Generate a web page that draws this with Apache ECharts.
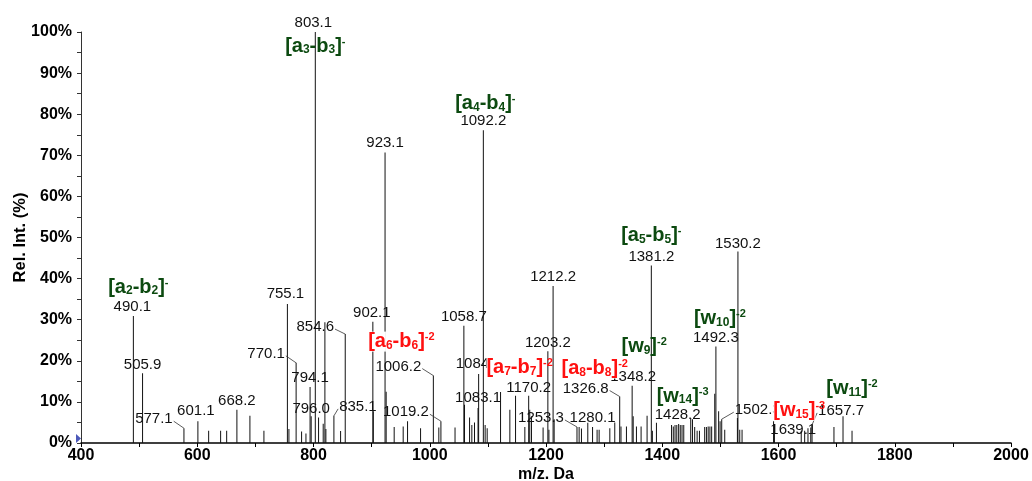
<!DOCTYPE html>
<html><head><meta charset="utf-8">
<script src="https://cdn.jsdelivr.net/npm/echarts@6/dist/echarts.min.js"></script>
<style>html,body{margin:0;padding:0;background:#fff}#c{width:1032px;height:481px}</style>
</head><body><div id="c"></div>
<script>
// ---------- DATA ----------
const peakMz = [490.1,505.9,577.1,601.1,619.6,640.2,650.6,668.2,690.6,714.7,
  755.1,757.7,770.1,779.5,787.0,794.1,796.0,803.1,808.7,816.7,819.6,821.3,835.1,846.6,854.6,
  902.1,902.9,923.1,925.0,938.8,954.3,961.8,984.2,1006.2,1015.6,1019.2,1043.5,
  1058.7,1059.8,1068.5,1072.4,1077.0,1083.1,1084.1,1092.2,1095.3,1098.8,1121.8,1137.8,1147.6,
  1163.6,1170.2,1172.0,1175.0,1195.0,1203.2,1205.0,1212.2,1214.0,1253.3,1257.0,1261.0,1271.9,
  1280.1,1287.9,1291.4,1309.8,1318.3,1326.8,1329.0,1338.4,1348.2,1350.0,1355.6,1363.6,1373.9,
  1381.2,1383.0,1390.0,1416.0,1419.0,1422.0,1425.0,1428.2,1431.0,1434.0,1437.0,1449.0,1452.0,
  1455.8,1460.0,1464.0,1473.0,1476.0,1479.0,1482.0,1485.0,1490.3,1492.3,1497.0,1499.5,1502.3,
  1507.5,1529.3,1530.2,1533.3,1537.3,1591.5,1593.0,1639.1,1645.0,1650.7,1655.5,1657.7,1695.4,
  1711.0,1726.5];
const peakInt = [30.9,17.0,3.6,5.3,3.0,3.0,3.0,8.1,6.6,3.0,
  33.8,3.4,19.5,2.8,2.3,13.6,6.5,100,6.2,4.7,29.4,3.4,6.6,2.9,26.5,
  29.5,7.7,70.7,12.5,3.9,4.0,5.3,3.6,16.4,3.8,5.3,3.8,
  28.5,9.3,6.2,4.4,5.0,8.5,16.8,76.1,4.4,3.6,12.4,8.1,11.5,
  3.9,11.5,8.1,6.5,3.8,22.3,3.2,38.2,5.8,3.9,3.9,3.5,4.9,
  3.9,3.2,3.2,3.6,5.0,11.3,4.0,4.0,13.9,6.5,4.0,4.0,6.6,
  43.2,3.0,4.9,4.4,4.0,4.4,4.4,4.6,4.4,4.4,4.4,6.1,5.8,
  3.9,3.0,3.0,3.9,3.9,4.0,4.0,4.0,12.0,23.5,7.7,5.3,5.8,
  3.2,6.1,46.6,3.2,3.2,5.3,4.5,3.0,3.0,3.6,3.8,4.4,3.9,
  6.5,3.0];
const numLabels = ['490.1','505.9','577.1','601.1','668.2','755.1','770.1','794.1','796.0','803.1',
  '835.1','854.6','902.1','923.1','1006.2','1019.2','1058.7','1083.1','1084.1','1092.2','1170.2',
  '1203.2','1212.2','1253.3','1280.1','1326.8','1348.2','1381.2','1428.2','1492.3','1502.3',
  '1530.2','1639.1','1657.7'];
const annLabels = ['[a_2-b_2]^-','[a_3-b_3]^-','[a_4-b_4]^-','[a_5-b_5]^-','[a_6-b_6]^-2',
  '[a_7-b_7]^-2','[a_8-b_8]^-2','[w_9]^-2','[w_10]^-2','[w_14]^-3','[w_15]^-3','[w_11]^-2'];
const annPeaks = [490.1,803.1,1092.2,1381.2,1006.2,1084.1,1326.8,1348.2,1492.3,1428.2,1639.1,1657.7];
const xTickLabels = [400,600,800,1000,1200,1400,1600,1800,2000];

// ---------- LAYOUT / STYLE (pixel offsets of labels from their peak tops) ----------
const numLayout = {
  '490.1':[-1,-9],'505.9':[0,-8],'577.1':[-30,-9,'r'],'601.1':[-2,-10],'668.2':[0,-9],
  '755.1':[-2,-10],'770.1':[-30,-9,'r'],'794.1':[0,-9],'796.0':[0,-7],'803.1':[-2,-9],
  '835.1':[24,-9,'l'],'854.6':[-30,-7,'r'],'902.1':[-1,-9],'923.1':[0,-10],'1006.2':[-35,-9,'r'],
  '1019.2':[-35,-9,'r'],'1058.7':[0,-9],'1083.1':[0,-10],'1084.1':[0,-10],'1092.2':[0,-9],
  '1170.2':[0,-8],'1203.2':[0,-8],'1212.2':[0,-9],'1253.3':[-36,-9,'r'],'1280.1':[0,-9],
  '1326.8':[-34,-8,'r'],'1348.2':[1,-9],'1381.2':[0,-9],'1428.2':[-1,-9],'1492.3':[0,-9],
  '1502.3':[36,-9,'l'],'1530.2':[0,-8],'1639.1':[-8,-1],'1657.7':[29,-14,'l']
};
const annLayout = [[5,-29],[0,14],[2,-27],[0,-30],[-32,-34],[41,-6],[-25,-28],[12,-39],[4,-28],[4,-28],[-2,-20],[40,-36]];
const annRed = {'[a_6-b_6]^-2':1,'[a_7-b_7]^-2':1,'[a_8-b_8]^-2':1,'[w_15]^-3':1};
const GREEN = '#0c4a10', RED = '#ff1010';
const FONT = 'Liberation Sans, Arial, sans-serif';

function intOf(mz){ return peakInt[peakMz.indexOf(mz)]; }
function textW(t){ let w=0; for(const c of t) w += (c==='.'?0.278:0.556)*15; return w; }

function numRender(params, api){
  const p = api.coord([api.value(0), api.value(1)]);
  const txt = numLabels[params.dataIndex];
  const L = numLayout[txt] || [0,-9];
  const cx = p[0]+L[0], cy = p[1]+L[1];
  const ch = [{type:'text', style:{text:txt, x:cx, y:cy, align:'center', verticalAlign:'middle',
    fontSize:15, fontFamily:FONT, fill:'#111'}}];
  if (L[2]) {
    const hw = textW(txt)/2 + 1;
    const sx = L[2]==='r' ? cx+hw : cx-hw;
    ch.push({type:'line', shape:{x1:sx, y1:cy+2, x2:p[0], y2:p[1]}, style:{stroke:'#333', lineWidth:0.8}});
  }
  return {type:'group', children:ch};
}

function toRich(s){
  const parts = s.split(/(_\d+|\^-\d*)/).filter(x=>x.length);
  return parts.map(x=>{
    if (x[0]==='_') return '{s|'+x.slice(1)+'}';
    if (x[0]==='^') return '{p|'+x.slice(1)+'}';
    return '{m|'+x+'}';
  }).join('');
}
function annRender(params, api){
  const i = params.dataIndex;
  const p = api.coord([api.value(0), api.value(1)]);
  const L = annLayout[i];
  const red = !!annRed[annLabels[i]];
  const col = red ? RED : GREEN;
  const bg = red ? '#fff' : null;
  return {type:'text', style:{
    text: toRich(annLabels[i]), x:p[0]+L[0], y:p[1]+L[1], align:'center', verticalAlign:'middle',
    fill:col, fontFamily:FONT, fontWeight:'bold', fontSize:20,
    rich:{
      m:{fontSize:20, fontWeight:'bold', fontFamily:FONT, fill:col, lineHeight:20, verticalAlign:'middle', backgroundColor:bg},
      s:{fontSize:12, fontWeight:'bold', fontFamily:FONT, fill:col, lineHeight:11, verticalAlign:'bottom', backgroundColor:bg},
      p:{fontSize:11, fontWeight:'bold', fontFamily:FONT, fill:col, lineHeight:12, verticalAlign:'top'}
    }
  }};
}

const chart = echarts.init(document.getElementById('c'), null, {renderer:'canvas'});
chart.setOption({
  animation:false,
  backgroundColor:'#fff',
  grid:{left:81, right:21, top:32, bottom:38, outerBoundsMode:'none', containLabel:false},
  xAxis:{type:'value', min:400, max:2000, interval:100,
    name:'m/z. Da', nameLocation:'middle', nameGap:24, nameMoveOverlap:false,
    nameTextStyle:{fontFamily:FONT, fontWeight:'bold', fontSize:16, color:'#000'},
    axisLine:{show:true, onZero:false, lineStyle:{color:'#000', width:1.5}},
    axisTick:{show:true, length:4, lineStyle:{color:'#000'}},
    axisLabel:{formatter:v=> xTickLabels.indexOf(v)>=0 ? String(v) : '', fontFamily:FONT, fontWeight:'bold',
      fontSize:16, color:'#000', margin:5},
    splitLine:{show:false}},
  yAxis:{type:'value', min:0, max:100, interval:10,
    name:'Rel. Int. (%)', nameLocation:'middle', nameGap:52, nameMoveOverlap:false,
    nameTextStyle:{fontFamily:FONT, fontWeight:'bold', fontSize:16.5, color:'#000'},
    axisLine:{show:true, lineStyle:{color:'#333', width:1}},
    axisTick:{show:true, length:4, lineStyle:{color:'#333'}},
    minorTick:{show:true, splitNumber:2, length:4, lineStyle:{color:'#333'}},
    axisLabel:{formatter:'{value}%', fontFamily:FONT, fontWeight:'bold', fontSize:16, color:'#000', margin:9},
    splitLine:{show:false}},
  series:[
    {type:'bar', barWidth:1, itemStyle:{color:'#111'}, silent:true,
      data: peakMz.map((m,i)=>[m, peakInt[i]])},
    {type:'custom', renderItem:numRender, clip:false, z:5, silent:true,
      data: numLabels.map(t=>[parseFloat(t), intOf(parseFloat(t))])},
    {type:'custom', renderItem:annRender, clip:false, z:6, silent:true,
      data: annPeaks.map(m=>[m, intOf(m)])},
    {type:'scatter', data:[[400,1.1]], symbol:'triangle', symbolSize:[9,5], symbolRotate:-90,
      symbolOffset:[-2.5,0], itemStyle:{color:'#1f2fa8'}, clip:false, silent:true, z:7}
  ]
});
</script></body></html>
